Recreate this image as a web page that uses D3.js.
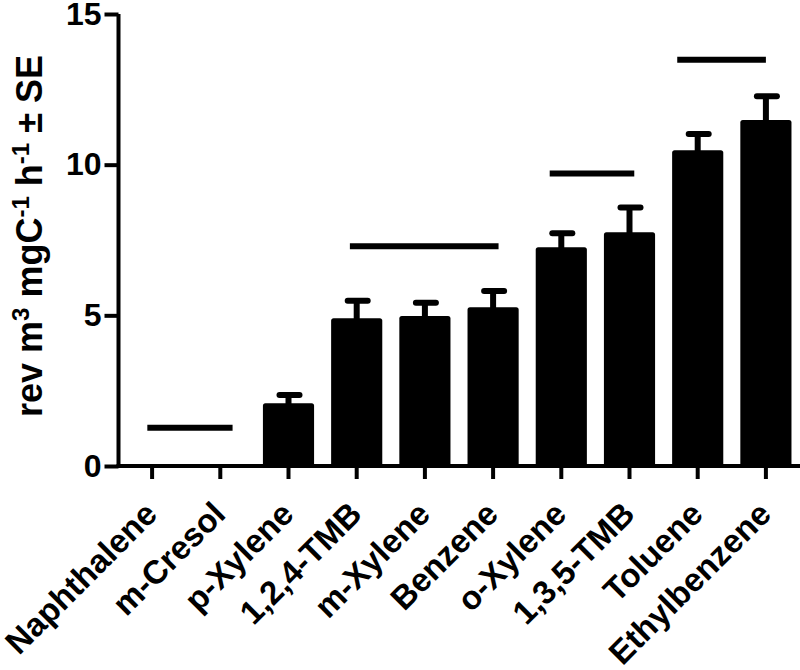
<!DOCTYPE html>
<html><head><meta charset="utf-8">
<script src="https://cdn.jsdelivr.net/npm/d3@7"></script>
<style>body{margin:0;background:#fff}svg{display:block}</style>
</head><body><div id="chart"></div>
<script>
const categories = ["Naphthalene","m-Cresol","p-Xylene","1,2,4-TMB","m-Xylene","Benzene","o-Xylene","1,3,5-TMB","Toluene","Ethylbenzene"];
const means = [0, 0, 2.08, 4.90, 4.98, 5.27, 7.26, 7.76, 10.48, 11.48];
const errors = [0, 0, 0.28, 0.58, 0.44, 0.54, 0.46, 0.82, 0.54, 0.79];
const yTicks = [0, 5, 10, 15];
// significance groups: start/end in category-index units, level in y units
const groupStart = [-0.07, 2.9, 5.83, 7.7];
const groupEnd = [1.18, 5.08, 7.07, 9.0];
const groupLevel = [1.27, 7.29, 9.71, 13.48];

const W = 800, H = 670;
const svg = d3.select("#chart").append("svg").attr("width", W).attr("height", H);
const FONT = "'Liberation Sans', Arial, sans-serif";

const x = d3.scaleBand().domain(categories).range([118, 800]).paddingInner(0.25).paddingOuter(0.125);
const y = d3.scaleLinear().domain([0, 15]).range([466, 14]);
const xi = d3.scaleLinear().domain([0, 1]).range([x(categories[0]) + x.bandwidth()/2, x(categories[1]) + x.bandwidth()/2]);

const rows = categories.map((c,i)=>({c, v: means[i], e: errors[i]})).filter(d=>d.v>0);

// bars
svg.append("g").selectAll("rect").data(rows)
  .join("rect")
  .attr("x", d => x(d.c)).attr("width", x.bandwidth())
  .attr("y", d => y(d.v)).attr("height", d => y(0) - y(d.v))
  .attr("rx", 2.5).attr("fill", "#000");

// error bars
const eb = svg.append("g").selectAll("g").data(rows).join("g");
eb.append("line")
  .attr("x1", d => x(d.c) + x.bandwidth()/2).attr("x2", d => x(d.c) + x.bandwidth()/2)
  .attr("y1", d => y(d.v) + 2).attr("y2", d => y(d.v + d.e))
  .attr("stroke", "#000").attr("stroke-width", 6);
eb.append("rect")
  .attr("x", d => x(d.c) + x.bandwidth()/2 - 12).attr("width", 26)
  .attr("y", d => y(d.v + d.e) - 3).attr("height", 6).attr("rx", 3)
  .attr("fill", "#000");

// significance lines
svg.append("g").selectAll("line").data(groupLevel.map((l,i)=>({s: groupStart[i], e: groupEnd[i], l})))
  .join("line")
  .attr("x1", d => xi(d.s)).attr("x2", d => xi(d.e))
  .attr("y1", d => y(d.l)).attr("y2", d => y(d.l))
  .attr("stroke", "#000").attr("stroke-width", 6);

// y axis
const yAxis = svg.append("g").attr("transform", "translate(118.5,0)")
  .call(d3.axisLeft(y).tickValues(yTicks).tickSize(14).tickPadding(3).tickFormat(d3.format("d")));
yAxis.select(".domain").attr("d", `M0,${y(15)}V${y(0)+2}`).attr("stroke-width", 4);
yAxis.selectAll(".tick line").attr("stroke-width", 4);
yAxis.selectAll("text").attr("font-family", FONT).attr("font-weight", "bold").attr("font-size", 32).attr("fill", "#000");

// x axis
const xAxis = svg.append("g").attr("transform", `translate(0,${y(0)})`)
  .call(d3.axisBottom(x).tickSize(13).tickFormat(""));
xAxis.select(".domain").attr("d", `M116.5,0H800`).attr("stroke-width", 4);
xAxis.selectAll(".tick line").attr("stroke-width", 4);

svg.append("g").selectAll("text").data(categories).join("text")
  .attr("transform", d => `translate(${x(d) + x.bandwidth()/2 + 7},${y(0) + 50}) rotate(-45)`)
  .attr("text-anchor", "end")
  .attr("font-family", FONT).attr("font-weight", "bold").attr("font-size", 33)
  .text(d => d);

// y title
const t = svg.append("text")
  .attr("transform", "translate(42,236) rotate(-90)")
  .attr("text-anchor", "middle")
  .attr("font-family", FONT).attr("font-weight", "bold").attr("font-size", 36);
t.append("tspan").text("rev m");
t.append("tspan").attr("font-size", 24).attr("dy", -13).text("3");
t.append("tspan").attr("dy", 13).text(" mgC");
t.append("tspan").attr("font-size", 24).attr("dy", -13).text("-1");
t.append("tspan").attr("dy", 13).text(" h");
t.append("tspan").attr("font-size", 24).attr("dy", -13).text("-1");
t.append("tspan").attr("dy", 13).text(" ± SE");
</script></body></html>
